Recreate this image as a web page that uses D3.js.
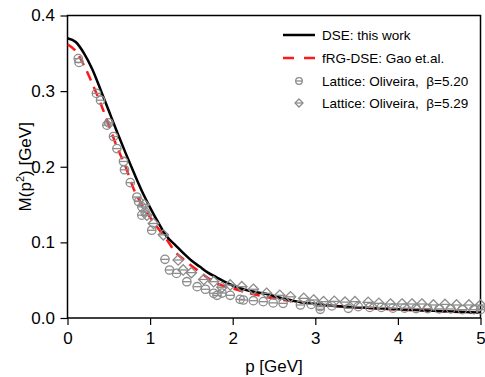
<!DOCTYPE html>
<html><head><meta charset="utf-8">
<script src="https://cdn.jsdelivr.net/npm/d3@7/dist/d3.min.js"></script>
<style>body{margin:0;background:#fff}svg{display:block;font-family:"Liberation Sans",Arial,sans-serif}</style>
</head><body><svg id="c" width="485" height="377"></svg>
<script>
const xTicks = [0,1,2,3,4,5];
const yTicks = [0.0,0.1,0.2,0.3,0.4];
const dseP = [0,0.1,0.2,0.3,0.4,0.5,0.6,0.7,0.8,0.9,1.0,1.1,1.2,1.3,1.4,1.5,1.6,1.7,1.8,1.9,2.0,2.2,2.4,2.6,2.8,3.0,3.2,3.5,4.0,4.5,5.0];
const dseM = [0.370,0.365,0.350,0.329,0.302,0.274,0.246,0.219,0.193,0.168,0.146,0.126,0.108,0.097,0.086,0.076,0.068,0.060,0.054,0.048,0.043,0.036,0.032,0.026,0.0213,0.0185,0.0162,0.0142,0.0115,0.0092,0.0070];
const frgP = [0,0.1,0.2,0.3,0.4,0.5,0.6,0.7,0.8,0.9,1.0,1.1,1.2,1.3,1.4,1.5,1.6,1.7,1.8,1.9,2.0,2.2,2.4,2.6,2.8,3.0,3.5,4.0,4.5,5.0];
const frgM = [0.362,0.353,0.334,0.310,0.284,0.255,0.226,0.201,0.171,0.150,0.133,0.118,0.104,0.088,0.078,0.069,0.061,0.053,0.046,0.042,0.039,0.033,0.028,0.024,0.021,0.018,0.014,0.011,0.009,0.0068];
const lat520P = [0.13,0.14,0.35,0.40,0.477,0.50,0.557,0.598,0.678,0.69,0.76,0.84,0.86,0.90,0.90,0.94,1.02,1.18,1.235,1.32,1.445,1.57,1.67,1.77,1.81,1.87,1.97,2.09,2.13,2.25,2.37,2.49,2.61,2.82,2.95,3.06,3.06,3.2,3.40,3.52,3.66,3.80,3.94,4.08,4.22,4.36,4.50,4.64,4.78,4.92,5.0];
const lat520M = [0.343,0.338,0.297,0.288,0.255,0.258,0.240,0.224,0.207,0.196,0.179,0.160,0.154,0.147,0.136,0.140,0.116,0.0776,0.0635,0.059,0.048,0.0414,0.038,0.0327,0.030,0.033,0.030,0.0247,0.0238,0.0229,0.0216,0.020,0.0194,0.0172,0.018,0.0115,0.015,0.016,0.0128,0.015,0.014,0.014,0.013,0.013,0.0125,0.0125,0.012,0.012,0.011,0.011,0.011];
const lat529P = [0.93,0.96,1.04,1.16,1.34,1.40,1.50,1.65,1.77,1.87,1.97,2.11,2.25,2.41,2.57,2.70,2.86,2.98,3.10,3.23,3.36,3.48,3.64,3.77,3.91,4.05,4.17,4.29,4.43,4.57,4.71,4.86,5.0];
const lat529M = [0.150,0.136,0.125,0.110,0.0767,0.0635,0.060,0.051,0.048,0.0406,0.0437,0.0414,0.038,0.0327,0.030,0.028,0.026,0.0238,0.0216,0.022,0.021,0.0216,0.0207,0.0194,0.0185,0.0185,0.0185,0.0185,0.0172,0.018,0.0172,0.0172,0.0172];
const legendLabels = ["DSE: this work","fRG-DSE: Gao et.al.","Lattice: Oliveira,\u00a0\u00a0\u03b2=5.20","Lattice: Oliveira,\u00a0\u00a0\u03b2=5.29"];

const svg = d3.select("#c");
const L=67.5, R=480.5, T=15.5, B=318;
const x = d3.scaleLinear().domain([0,5]).range([L,R]);
const y = d3.scaleLinear().domain([0,0.4]).range([B,T]);
const gray="#8c8c8c";

svg.append("clipPath").attr("id","cp").append("rect").attr("x",L).attr("y",T).attr("width",R-L).attr("height",B-T);

const xMinor = d3.range(0,5.0001,0.2);
const yMinor = d3.range(0,0.4001,0.02);
const gx = svg.append("g").attr("transform",`translate(0,${B})`);
gx.call(d3.axisBottom(x).tickValues(xMinor).tickSize(4).tickFormat(""));
gx.call(d3.axisBottom(x).tickValues(xTicks).tickSize(7).tickFormat(d3.format("d")));
gx.selectAll("text").attr("font-size",17).attr("fill","#000").attr("dy","0.95em");
const gy = svg.append("g").attr("transform",`translate(${L},0)`);
gy.call(d3.axisLeft(y).tickValues(yMinor).tickSize(4).tickFormat(""));
gy.call(d3.axisLeft(y).tickValues(yTicks).tickSize(7).tickFormat(d3.format(".1f")));
gy.selectAll("text").attr("font-size",17).attr("fill","#000").attr("dx","-0.15em");
svg.selectAll(".domain").remove();
svg.selectAll(".tick line").attr("stroke","#000").attr("stroke-width",1.2);

svg.append("rect").attr("x",L).attr("y",T).attr("width",R-L).attr("height",B-T).attr("fill","none").attr("stroke","#000").attr("stroke-width",1.5);

const plot = svg.append("g").attr("clip-path","url(#cp)");

function circ(g,cx,cy,r){
  g.append("circle").attr("cx",cx).attr("cy",cy).attr("r",r).attr("fill","none").attr("stroke",gray).attr("stroke-width",1.3);
  g.append("line").attr("x1",cx-r).attr("x2",cx+r).attr("y1",cy).attr("y2",cy).attr("stroke",gray).attr("stroke-width",1.3);
}
function diam(g,cx,cy,r){
  g.append("path").attr("d",`M${cx},${cy-r}L${cx+r},${cy}L${cx},${cy+r}L${cx-r},${cy}Z`).attr("fill","none").attr("stroke",gray).attr("stroke-width",1.3);
  g.append("line").attr("x1",cx-r).attr("x2",cx+r).attr("y1",cy).attr("y2",cy).attr("stroke",gray).attr("stroke-width",1.3);
}
const gm = svg.append("g");
lat529P.forEach((p,i)=>diam(gm,x(p),y(lat529M[i]),5.2));
lat520P.forEach((p,i)=>circ(gm,x(p),y(lat520M[i]),4.2));

const line = d3.line().x(d=>x(d[0])).y(d=>y(d[1])).curve(d3.curveMonotoneX);
plot.append("path").datum(frgP.map((p,i)=>[p,frgM[i]])).attr("d",line).attr("fill","none").attr("stroke","#ff1a1a").attr("stroke-width",2.5).attr("stroke-dasharray","10,7");
plot.append("path").datum(dseP.map((p,i)=>[p,dseM[i]])).attr("d",line).attr("fill","none").attr("stroke","#000").attr("stroke-width",2.5);

svg.append("text").attr("x",(L+R)/2).attr("y",372).attr("text-anchor","middle").attr("font-size",17).text("p [GeV]");
const yt = svg.append("text").attr("transform",`translate(31,${(T+B)/2}) rotate(-90)`).attr("text-anchor","middle").attr("font-size",17);
yt.append("tspan").text("M(p");
yt.append("tspan").attr("font-size",11).attr("dy",-7).text("2");
yt.append("tspan").attr("dy",7).text(") [GeV]");

const lg = svg.append("g");
const rows=[35,58,81,103];
lg.append("line").attr("x1",283).attr("x2",315).attr("y1",rows[0]).attr("y2",rows[0]).attr("stroke","#000").attr("stroke-width",2.5);
lg.append("line").attr("x1",283).attr("x2",315).attr("y1",rows[1]).attr("y2",rows[1]).attr("stroke","#ff1a1a").attr("stroke-width",2.5).attr("stroke-dasharray","11,10");
circ(lg,299,rows[2],3.3);
diam(lg,299,rows[3],4);
legendLabels.forEach((t,i)=>lg.append("text").attr("x",322).attr("y",rows[i]).attr("dy","0.35em").attr("font-size",13.5).text(t));
</script></body></html>
